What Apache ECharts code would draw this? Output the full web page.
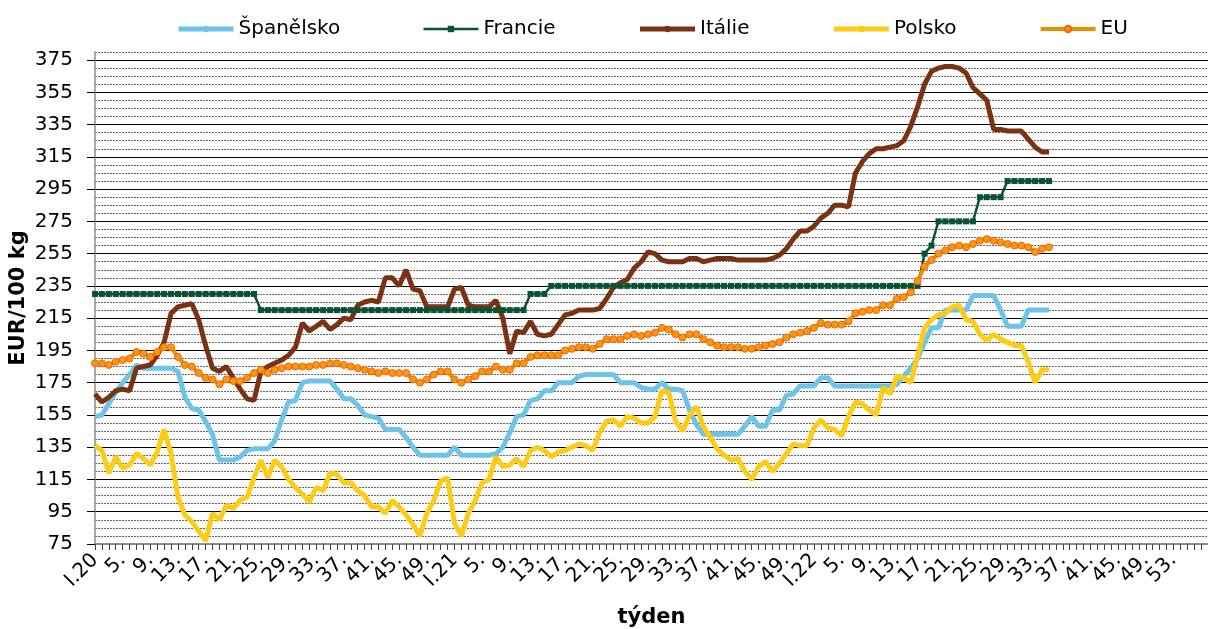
<!DOCTYPE html>
<html>
<head>
<meta charset="utf-8">
<script src="https://cdn.jsdelivr.net/npm/echarts@6.0.0/dist/echarts.min.js"></script>
<style>
  html, body { margin: 0; padding: 0; background: #fff; }
  #chart { width: 1208px; height: 629px; }
</style>
</head>
<body>
<div id="chart"></div>
<script>
// osa x: týdny 2020 - 2022
var years = ['20', '21', '22'];
var weeksPerYear = [52, 52, 53];
var totalSlots = 162;
var yTicks = [75, 95, 115, 135, 155, 175, 195, 215, 235, 255, 275, 295, 315, 335, 355, 375];

var seriesNames = ['Španělsko', 'Francie', 'Itálie', 'Polsko', 'EU'];

var spanelsko = [154, 155, 162, 169, 175, 180, 186, 184, 184, 184, 184, 184, 182, 166, 159, 158, 151, 143, 127, 127,
  127, 129, 133, 134, 134, 134, 139, 152, 163, 164, 175, 176, 176, 176, 176, 171, 165, 165, 161, 155,
  154, 153, 146, 146, 146, 141, 135, 130, 130, 130, 130, 130, 135, 130, 130, 130, 130, 130, 131, 135,
  144, 154, 155, 164, 165, 170, 170, 175, 175, 175, 179, 180, 180, 180, 180, 180, 175, 175, 175, 172,
  171, 171, 175, 171, 171, 170, 158, 149, 143, 143, 143, 143, 143, 143, 148, 154, 148, 148, 158, 158,
  167, 168, 173, 173, 173, 178, 178, 173, 173, 173, 173, 173, 173, 173, 173, 173, 174, 179, 184, 190,
  200, 209, 209, 220, 220, 220, 220, 229, 229, 229, 229, 220, 210, 210, 210, 220, 220, 220, 220];

var francie = [230, 230, 230, 230, 230, 230, 230, 230, 230, 230, 230, 230, 230, 230, 230, 230, 230, 230, 230, 230,
  230, 230, 230, 230, 220, 220, 220, 220, 220, 220, 220, 220, 220, 220, 220, 220, 220, 220, 220, 220,
  220, 220, 220, 220, 220, 220, 220, 220, 220, 220, 220, 220, 220, 220, 220, 220, 220, 220, 220, 220,
  220, 220, 220, 230, 230, 230, 235, 235, 235, 235, 235, 235, 235, 235, 235, 235, 235, 235, 235, 235,
  235, 235, 235, 235, 235, 235, 235, 235, 235, 235, 235, 235, 235, 235, 235, 235, 235, 235, 235, 235,
  235, 235, 235, 235, 235, 235, 235, 235, 235, 235, 235, 235, 235, 235, 235, 235, 235, 235, 235, 235,
  255, 260, 275, 275, 275, 275, 275, 275, 290, 290, 290, 290, 300, 300, 300, 300, 300, 300, 300];

var italie = [168, 163, 166, 170, 171, 170, 184, 185, 186, 192, 200, 218, 222, 223, 224, 214, 198, 184, 182, 185,
  178, 171, 165, 164, 182, 185, 187, 189, 192, 197, 212, 207, 210, 213, 208, 211, 215, 214, 223, 225,
  226, 225, 240, 240, 235, 245, 233, 232, 222, 222, 222, 222, 233, 234, 223, 222, 222, 222, 226, 215,
  193, 207, 206, 213, 205, 204, 205, 211, 217, 218, 220, 220, 220, 221, 227, 234, 237, 239, 246, 250,
  256, 255, 251, 250, 250, 250, 252, 252, 250, 251, 252, 252, 252, 251, 251, 251, 251, 251, 252, 254,
  258, 264, 269, 269, 272, 277, 280, 285, 285, 284, 305, 312, 317, 320, 320, 321, 322, 325, 334, 346,
  360, 368, 370, 371, 371, 370, 367, 358, 354, 350, 332, 332, 331, 331, 331, 326, 321, 318, 318];

var polsko = [136, 133, 119, 129, 122, 124, 131, 128, 124, 132, 146, 131, 104, 93, 89, 83, 77, 94, 90, 99,
  97, 102, 104, 116, 127, 116, 127, 123, 115, 110, 106, 101, 110, 108, 119, 118, 113, 113, 108, 105,
  98, 98, 94, 102, 98, 93, 87, 80, 94, 102, 114, 116, 88, 80, 94, 102, 113, 115, 129, 123,
  124, 128, 123, 133, 135, 133, 129, 132, 133, 135, 137, 136, 133, 144, 151, 152, 148, 154, 153, 150,
  150, 154, 170, 169, 151, 145, 155, 160, 148, 141, 134, 130, 127, 128, 120, 115, 123, 126, 120, 125,
  131, 137, 136, 136, 147, 152, 147, 146, 142, 154, 163, 162, 158, 155, 172, 168, 179, 178, 175, 192,
  209, 214, 217, 218, 222, 223, 214, 213, 205, 201, 205, 202, 200, 198, 198, 188, 175, 183, 183];

var eu = [187, 187, 186, 188, 189, 190, 194, 193, 191, 194, 197, 197, 191, 186, 185, 181, 178, 177, 174, 177,
  176, 176, 178, 181, 183, 181, 183, 184, 185, 185, 185, 185, 186, 186, 187, 187, 186, 185, 184, 183,
  182, 181, 182, 181, 181, 181, 177, 175, 177, 180, 182, 182, 177, 175, 177, 179, 182, 182, 185, 183,
  183, 187, 187, 191, 192, 192, 192, 192, 195, 196, 197, 197, 196, 199, 202, 202, 202, 204, 205, 204,
  205, 206, 209, 208, 205, 203, 205, 205, 202, 200, 198, 197, 197, 197, 196, 196, 197, 198, 199, 200,
  203, 205, 206, 207, 209, 212, 211, 211, 211, 213, 218, 219, 220, 220, 223, 223, 227, 228, 231, 238,
  247, 251, 255, 257, 259, 260, 259, 261, 263, 264, 263, 262, 261, 260, 260, 259, 256, 258, 259];

var categories = [];
years.forEach(function (y, k) {
  for (var w = 1; w <= weeksPerYear[k]; w++) {
    categories.push(w === 1 ? 'I.' + y : w + '.');
  }
});
while (categories.length < totalSlots) categories.push('');

var chart = echarts.init(document.getElementById('chart'));

var option = {
  animation: false,
  textStyle: { fontFamily: 'DejaVu Sans' },
  legend: {
    top: 14,
    left: 171,
    itemWidth: 55,
    itemHeight: 8,
    itemGap: 82,
    lineStyle: { width: 'inherit' },
    textStyle: { fontSize: 20, color: '#000' },
    data: seriesNames
  },
  grid: { left: 95, right: 0, top: 52, bottom: 85, outerBoundsMode: 'none' },
  xAxis: {
    type: 'category',
    data: categories,
    boundaryGap: false,
    name: 'týden',
    nameLocation: 'middle',
    nameGap: 63,
    nameTextStyle: { fontSize: 21, fontWeight: 'bold', color: '#000' },
    axisLine: { lineStyle: { color: '#8c8c8c', width: 2 } },
    axisTick: { interval: 0, length: 6, lineStyle: { color: '#444' } },
    axisLabel: { interval: 3, rotate: 45, fontSize: 20, color: '#000', margin: 13 },
    splitLine: { show: false }
  },
  yAxis: [
    {
      // jemná čárkovaná mřížka po 5
      type: 'value',
      position: 'right',
      min: 75,
      max: 380,
      interval: 5,
      axisLine: { show: false },
      axisTick: { show: false },
      axisLabel: { show: false },
      splitLine: { lineStyle: { color: '#666', type: [2, 1], width: 1 } }
    },
    {
      type: 'value',
      position: 'left',
      min: 75,
      max: 380,
      name: 'EUR/100 kg',
      nameLocation: 'middle',
      nameGap: 66,
      nameMoveOverlap: false,
      nameTextStyle: { fontSize: 21, fontWeight: 'bold', color: '#000' },
      axisLine: { show: true, lineStyle: { color: '#8c8c8c', width: 1.5 } },
      axisTick: { show: true, length: 8, customValues: yTicks, lineStyle: { color: '#000' } },
      axisLabel: { customValues: yTicks, fontSize: 20, color: '#000', margin: 22 },
      splitLine: { show: true, lineStyle: { color: '#000', width: 1 } }
    }
  ],
  series: [
    {
      name: 'Španělsko', type: 'line', yAxisIndex: 1, data: spanelsko,
      symbol: 'none', color: '#6EC4E8',
      lineStyle: { width: 5, color: '#6EC4E8' }
    },
    {
      name: 'Francie', type: 'line', yAxisIndex: 1, data: francie,
      symbol: 'rect', symbolSize: 6, showAllSymbol: true, color: '#0B5234',
      lineStyle: { width: 2.5, color: '#0B5234' },
      itemStyle: { color: '#0B5234' }
    },
    {
      name: 'Itálie', type: 'line', yAxisIndex: 1, data: italie,
      symbol: 'none', color: '#7A3212',
      lineStyle: { width: 5, color: '#7A3212' }
    },
    {
      name: 'Polsko', type: 'line', yAxisIndex: 1, data: polsko,
      symbol: 'none', color: '#FFCC15',
      lineStyle: { width: 5, color: '#FFCC15' }
    },
    {
      name: 'EU', type: 'line', yAxisIndex: 1, data: eu,
      symbol: 'circle', symbolSize: 7, showAllSymbol: true, color: '#EE8F00',
      lineStyle: { width: 4, color: '#EE8F00' },
      itemStyle: { color: '#F39A14', borderColor: '#FF5F00', borderWidth: 1 }
    }
  ]
};

chart.setOption(option);
</script>
</body>
</html>
